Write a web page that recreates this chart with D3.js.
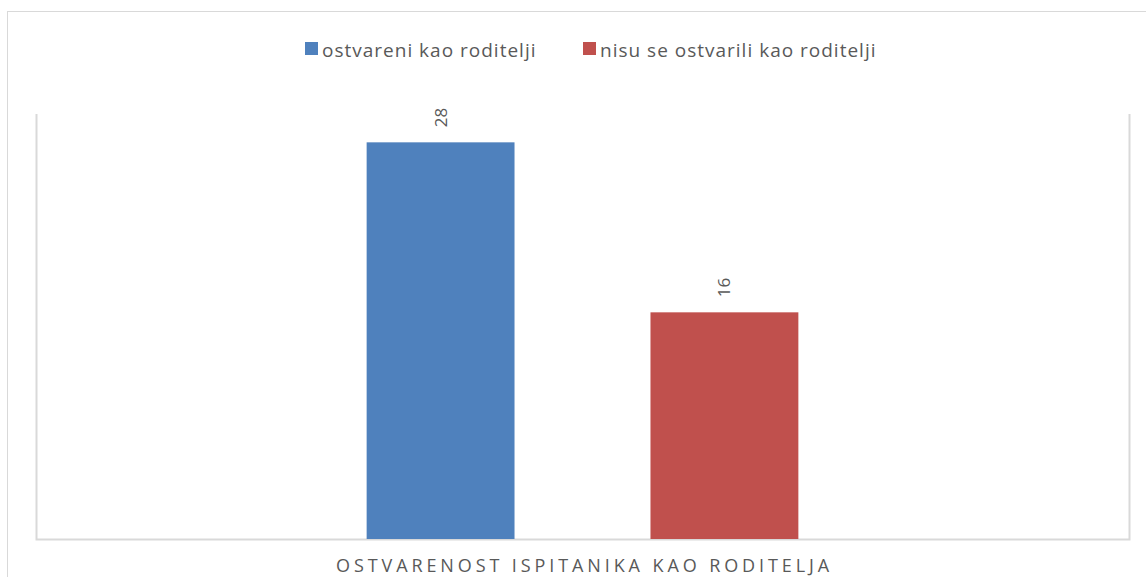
<!DOCTYPE html>
<html>
<head>
<meta charset="utf-8">
<script src="https://cdn.jsdelivr.net/npm/d3@7"></script>
<style>
  body { margin: 0; background: #fff; }
  text { font-family: "Open Sans", "Liberation Sans", sans-serif; fill: #595959; }
</style>
</head>
<body>
<svg id="chart"></svg>
<script>
// data
var categories = ["OSTVARENOST ISPITANIKA KAO RODITELJA"];
var seriesNames = ["ostvareni kao roditelji", "nisu se ostvarili kao roditelji"];
var seriesValues = [28, 16];
var seriesColors = ["#4F81BD", "#C0504D"];

var width = 1146, height = 577;
var plot = {left: 36, right: 1129, top: 114, bottom: 539};

var svg = d3.select("#chart")
    .attr("width", width)
    .attr("height", height);

// outer chart border
svg.append("rect")
    .attr("x", 7.5).attr("y", 11.5)
    .attr("width", width + 20).attr("height", height + 20)
    .attr("fill", "none")
    .attr("stroke", "#D9D9D9");

// scales
var x0 = d3.scaleBand().domain(categories).range([plot.left, plot.right]).padding(0.4337);
var x1 = d3.scaleBand().domain(seriesNames).range([0, x0.bandwidth()]).paddingInner(0.479);
var y = d3.scaleLinear().domain([0, 30]).range([plot.bottom, plot.top]);

// plot area frame (left, right, bottom)
svg.append("path")
    .attr("d", "M" + (plot.left + 0.5) + "," + plot.top + "V" + (plot.bottom + 0.5) +
        "H" + (plot.right + 0.5) + "V" + plot.top)
    .attr("fill", "none")
    .attr("stroke", "#D9D9D9")
    .attr("stroke-width", 2);

var bars = seriesNames.map(function (s, i) {
    return {name: s, value: seriesValues[i], color: seriesColors[i]};
});

var g = svg.append("g").attr("transform", "translate(" + x0(categories[0]) + ",0)");

g.selectAll("rect.bar")
    .data(bars)
    .enter().append("rect")
    .attr("class", "bar")
    .attr("x", function (d) { return x1(d.name); })
    .attr("y", function (d) { return y(d.value); })
    .attr("width", x1.bandwidth())
    .attr("height", function (d) { return y(0) - y(d.value); })
    .attr("fill", function (d) { return d.color; });

// data labels, rotated
g.selectAll("text.lbl")
    .data(bars)
    .enter().append("text")
    .attr("class", "lbl")
    .attr("transform", function (d) {
        return "translate(" + (x1(d.name) + x1.bandwidth() / 2 + 6) + "," + (y(d.value) - 15) + ") rotate(-90)";
    })
    .attr("text-anchor", "start")
    .style("font-size", "17px")
    .text(function (d) { return d.value; });

// x axis category label
svg.append("text")
    .attr("x", x0(categories[0]) + x0.bandwidth() / 2 + 2)
    .attr("y", 572)
    .attr("text-anchor", "middle")
    .style("font-size", "18px")
    .style("letter-spacing", "3.9px")
    .text(categories[0]);

// legend
var legend = svg.append("g").attr("class", "legend");
var legX = [305, 583];
seriesNames.forEach(function (s, i) {
    var lg = legend.append("g").attr("transform", "translate(" + legX[i] + ",0)");
    lg.append("rect")
        .attr("x", 0).attr("y", 42)
        .attr("width", 13).attr("height", 13)
        .attr("fill", seriesColors[i]);
    lg.append("text")
        .attr("x", 17).attr("y", 57)
        .style("font-size", "19px")
        .style("letter-spacing", "1px")
        .text(s);
});
</script>
</body>
</html>
